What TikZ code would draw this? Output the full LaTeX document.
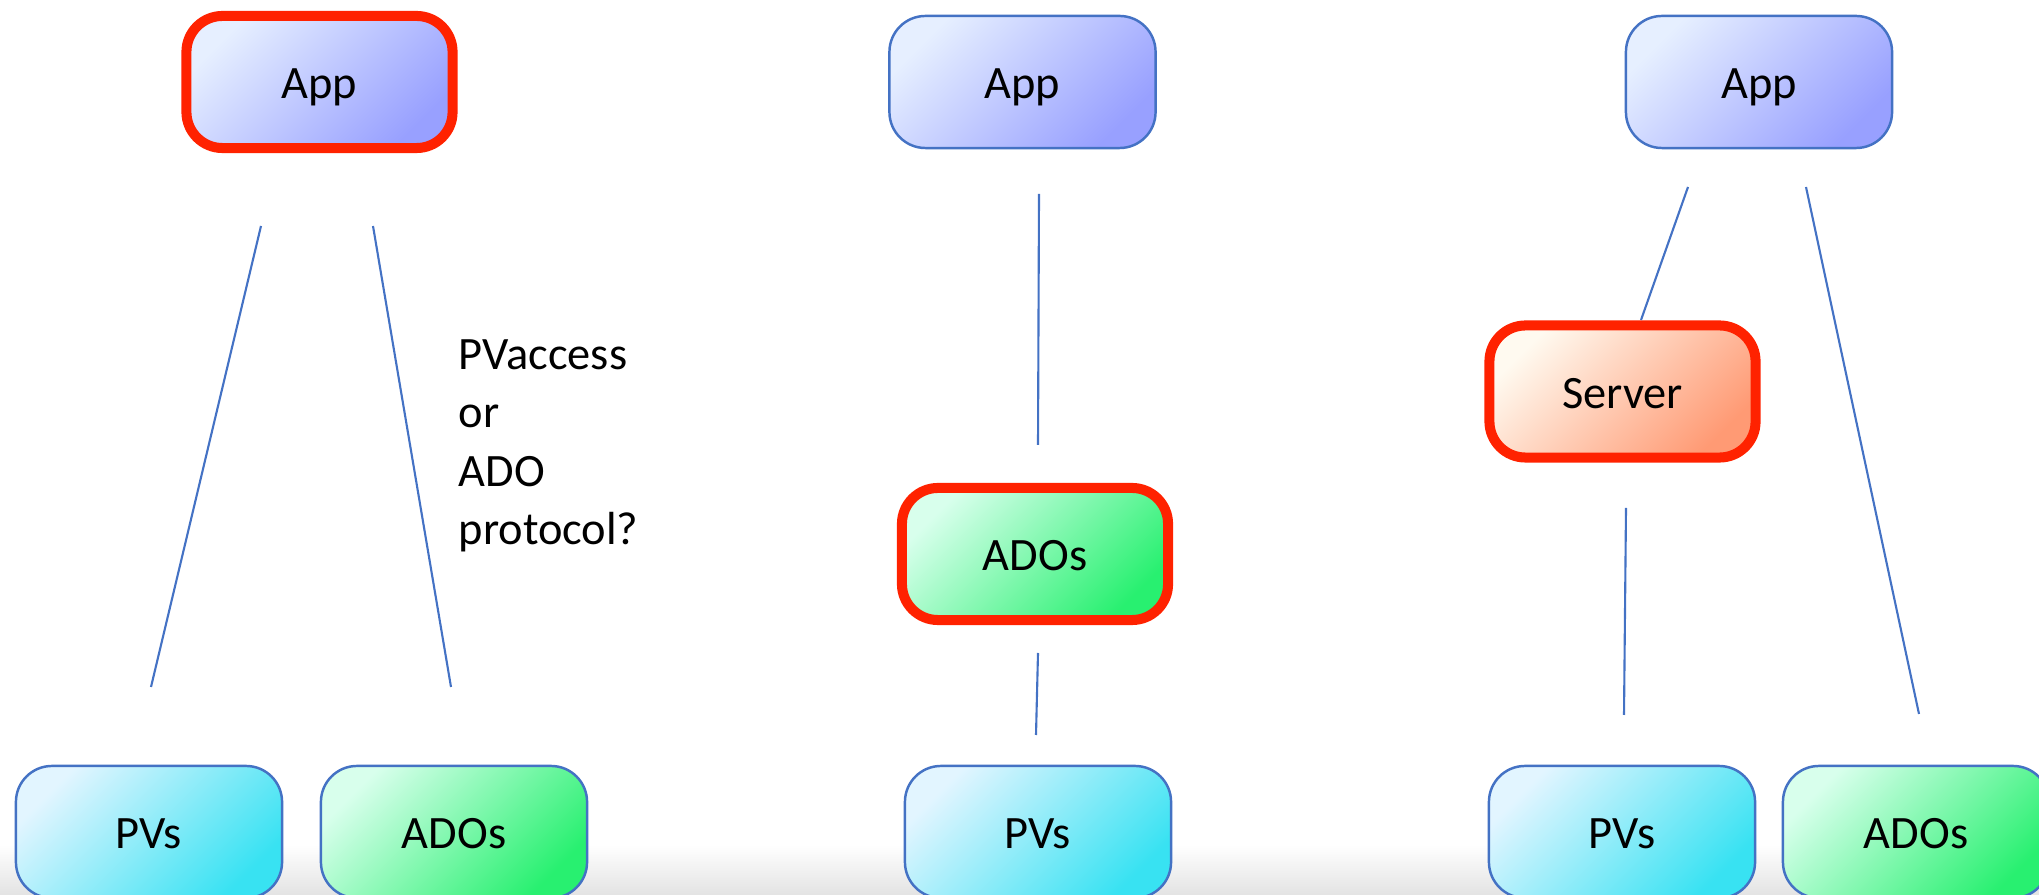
\documentclass[tikz,border=0pt]{standalone}
\usepackage{fontspec}
\setmainfont{Carlito}
\definecolor{linkblue}{HTML}{4472C4}
\definecolor{hotred}{HTML}{FF2200}
\definecolor{appA}{HTML}{E6EFFF}
\definecolor{appB}{HTML}{98A0FF}
\definecolor{pvA}{HTML}{E2F5FF}
\definecolor{pvB}{HTML}{38E2F2}
\definecolor{adoA}{HTML}{D8FFEC}
\definecolor{adoB}{HTML}{28F070}
\definecolor{srvA}{HTML}{FFFAF0}
\definecolor{srvB}{HTML}{FF9A74}
\begin{document}
\begin{tikzpicture}[x=0.01cm,y=-0.01cm,
  box/.style={rounded corners=0.36cm, minimum width=2.66cm, minimum height=1.32cm,
    draw=linkblue, line width=0.7pt, inner sep=0pt, text height=1.15em, text depth=0.2em,
    font=\fontsize{13.2}{16}\selectfont},
  hot/.style={draw=hotred, line width=2.85pt},
  appbox/.style={box, top color=appA, bottom color=appB, shading angle=45},
  pvbox/.style={box, top color=pvA, bottom color=pvB, shading angle=45},
  adobox/.style={box, top color=adoA, bottom color=adoB, shading angle=45},
  srvbox/.style={box, top color=srvA, bottom color=srvB, shading angle=45},
  link/.style={linkblue, line width=0.6pt}]
\useasboundingbox (0,0) rectangle (2039,895);

% faint floor along the bottom edge
\shade[top color=white, bottom color=black!11, draw=none] (0,845) rectangle (2039,895);

% left: app talks to both directly
\node[appbox, hot] (app1) at (319.5,82) {App};
\node[pvbox] (pv1) at (149,832) {PVs};
\node[adobox] (ado1) at (454,832) {ADOs};
\coordinate (l1a) at (261,226); \coordinate (l1b) at (151,687);
\coordinate (l2a) at (373,226); \coordinate (l2b) at (451,687);
\draw[link] (l1a) -- (l1b);
\draw[link] (l2a) -- (l2b);
\node[anchor=north west, align=left, inner sep=0pt, font=\fontsize{13.2}{16.6}\selectfont] (proto) at (458,339)
  {PVaccess\\or\\ADO\\protocol?};

% middle: ADOs sit in between
\node[appbox] (app2) at (1022.5,82) {App};
\node[adobox, hot] (ado2) at (1035,554) {ADOs};
\node[pvbox] (pv2) at (1038,832) {PVs};
\coordinate (m1a) at (1039,194); \coordinate (m1b) at (1038,445);
\coordinate (m2a) at (1038,653); \coordinate (m2b) at (1036,735);
\draw[link] (m1a) -- (m1b);
\draw[link] (m2a) -- (m2b);

% right: server in front of the PVs
\node[appbox] (app3) at (1759,82) {App};
\node[srvbox, hot] (srv) at (1622.5,391.5) {Server};
\node[pvbox] (pv3) at (1622,832) {PVs};
\node[adobox] (ado3) at (1916,832) {ADOs};
\coordinate (r1a) at (1688,187); \coordinate (r1b) at (1641,320);
\coordinate (r2a) at (1806,187); \coordinate (r2b) at (1919,714);
\coordinate (r3a) at (1626,508); \coordinate (r3b) at (1624,715);
\draw[link] (r1a) -- (r1b);
\draw[link] (r2a) -- (r2b);
\draw[link] (r3a) -- (r3b);
\end{tikzpicture}
\end{document}
